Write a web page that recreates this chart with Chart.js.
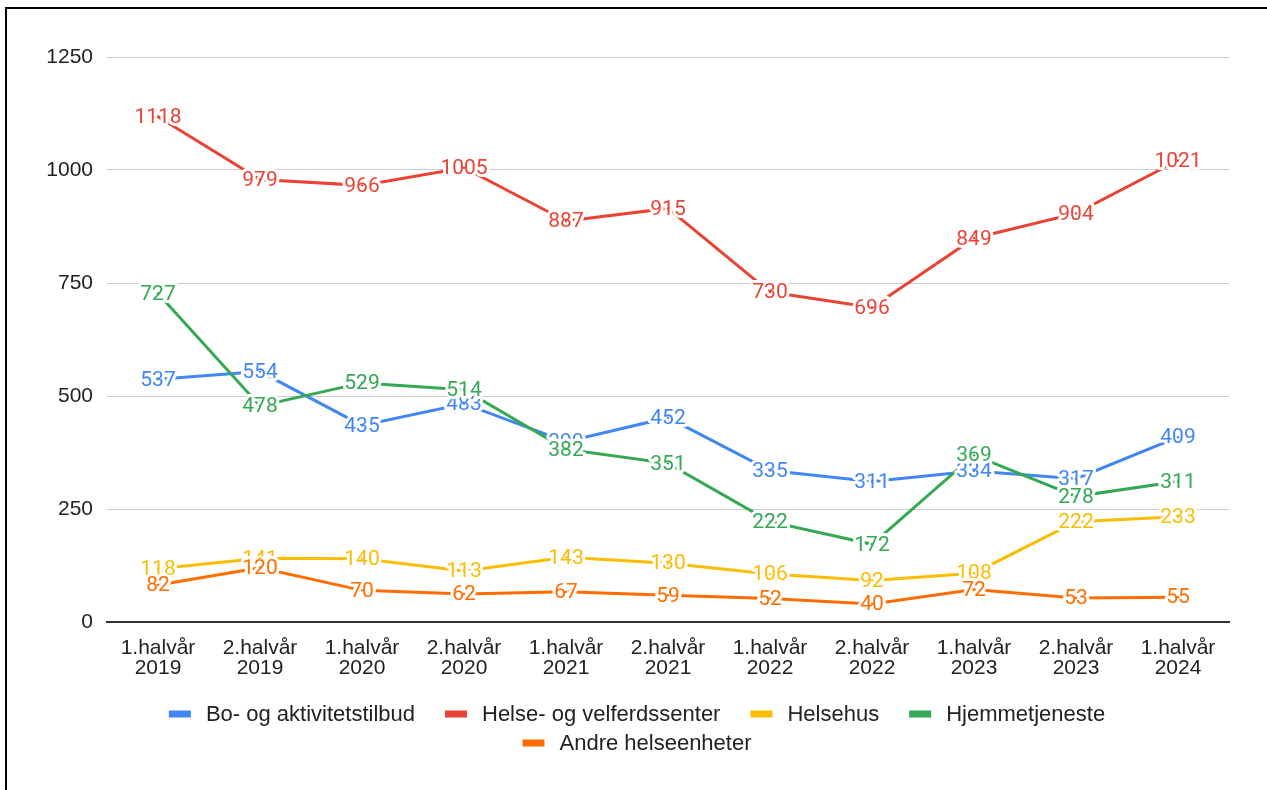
<!DOCTYPE html>
<html>
<head>
<meta charset="utf-8">
<script src="https://cdn.jsdelivr.net/npm/chart.js@4.4.1/dist/chart.umd.min.js"></script>
<style>
    html, body { margin: 0; padding: 0; background: #fff; }
    #wrap { position: relative; width: 1267px; height: 790px; overflow: hidden; }
    #ramme { position: absolute; left: 5px; top: 7px; width: 1400px; height: 900px; border-left: 2px solid #000; border-top: 2px solid #000; }
    #myChart { position: absolute; left: 0; top: 0; }
</style>
</head>
<body>
<div id="wrap">
    <canvas id="myChart" width="1267" height="790"></canvas>
    <div id="ramme"></div>
</div>
<script>
    let halvaar = [
        ['1.halvår', '2019'], ['2.halvår', '2019'], ['1.halvår', '2020'], ['2.halvår', '2020'],
        ['1.halvår', '2021'], ['2.halvår', '2021'], ['1.halvår', '2022'], ['2.halvår', '2022'],
        ['1.halvår', '2023'], ['2.halvår', '2023'], ['1.halvår', '2024'],
    ];
    let boOgAktivitet = [537, 554, 435, 483, 399, 452, 335, 311, 334, 317, 409];
    let helseOgVelferd = [1118, 979, 966, 1005, 887, 915, 730, 696, 849, 904, 1021];
    let helsehus = [118, 141, 140, 113, 143, 130, 106, 92, 108, 222, 233];
    let hjemmetjeneste = [727, 478, 529, 514, 382, 351, 222, 172, 369, 278, 311];
    let andreEnheter = [82, 120, 70, 62, 67, 59, 52, 40, 72, 53, 55];
    let yTicks = [0, 250, 500, 750, 1000, 1250];

    let serieNavn = ['Bo- og aktivitetstilbud', 'Helse- og velferdssenter', 'Helsehus', 'Hjemmetjeneste', 'Andre helseenheter'];
    let serieData = [boOgAktivitet, helseOgVelferd, helsehus, hjemmetjeneste, andreEnheter];
    let farger = ['#4285F4', '#EA4335', '#FBBC04', '#34A853', '#FF6D01'];

    let tekstFont = '"Liberation Sans", Arial, sans-serif';

    // tall ved hvert punkt, med hvit kant rundt
    const verdiEtiketter = {
        id: 'verdiEtiketter',
        afterDatasetsDraw(chart) {
            let ctx = chart.ctx;
            ctx.save();
            ctx.font = '21px Roboto';
            ctx.textAlign = 'center';
            ctx.textBaseline = 'middle';
            ctx.lineJoin = 'round';
            chart.data.datasets.forEach(function (ds, i) {
                chart.getDatasetMeta(i).data.forEach(function (pt, j) {
                    let tekst = String(ds.data[j]);
                    ctx.lineWidth = 6;
                    ctx.strokeStyle = '#fff';
                    ctx.strokeText(tekst, pt.x, pt.y + 1);
                    ctx.fillStyle = ds.borderColor;
                    ctx.fillText(tekst, pt.x, pt.y + 1);
                });
            });
            // små prikker oppå tallene
            chart.data.datasets.forEach(function (ds, i) {
                chart.getDatasetMeta(i).data.forEach(function (pt) {
                    pt.draw(ctx, chart.chartArea);
                });
            });
            ctx.restore();
        },
    };

    // forklaring nederst, to rader
    const bunnLegend = {
        id: 'bunnLegend',
        afterDraw(chart) {
            let ctx = chart.ctx;
            let rader = [[0, 1, 2, 3], [4]];
            let radY = [chart.chartArea.bottom + 92, chart.chartArea.bottom + 121];
            let midt = 637;
            ctx.save();
            ctx.font = '22px ' + tekstFont;
            ctx.textBaseline = 'middle';
            rader.forEach(function (rad, r) {
                let bredder = rad.map(function (i) {
                    return 22 + 15 + ctx.measureText(serieNavn[i]).width;
                });
                let total = bredder.reduce(function (a, b) { return a + b; }, 0) + 30 * (rad.length - 1);
                let x = midt - total / 2;
                rad.forEach(function (i, k) {
                    ctx.fillStyle = farger[i];
                    ctx.fillRect(x, radY[r] - 3.5, 22, 7);
                    ctx.fillStyle = '#222';
                    ctx.fillText(serieNavn[i], x + 37, radY[r] + 1);
                    x += bredder[k] + 30;
                });
            });
            ctx.restore();
        },
    };

    let datasets = serieData.map(function (verdier, i) {
        return {
            label: serieNavn[i],
            data: verdier,
            borderColor: farger[i],
            backgroundColor: farger[i],
            borderWidth: 3,
            pointRadius: 1.2,
            pointBorderWidth: 0,
            pointHoverRadius: 1.2,
            tension: 0,
            order: serieNavn.length - i,
        };
    });

    let ctx = document.getElementById('myChart').getContext('2d');
    window.myChart = new Chart(ctx, {
        type: 'line',
        data: {
            labels: halvaar,
            datasets: datasets,
        },
        options: {
            responsive: false,
            animation: false,
            events: [],
            layout: {
                padding: { top: 57, right: 38, bottom: 104, left: 0 },
            },
            plugins: {
                legend: { display: false },
                tooltip: { enabled: false },
            },
            scales: {
                x: {
                    offset: true,
                    grid: { display: false },
                    border: { display: true, color: '#333', width: 2 },
                    ticks: {
                        color: '#222',
                        font: { family: tekstFont, size: 21, lineHeight: '20px' },
                        padding: 8,
                        maxRotation: 0,
                        autoSkip: false,
                    },
                },
                y: {
                    min: 0,
                    max: 1250,
                    afterFit: function (scale) {
                        scale.width = 107;
                    },
                    afterBuildTicks: function (scale) {
                        scale.ticks = yTicks.map(function (v) { return { value: v }; });
                    },
                    grid: { color: '#ccc', lineWidth: 1, drawTicks: false },
                    border: { display: false },
                    ticks: {
                        color: '#222',
                        font: { family: tekstFont, size: 21 },
                        padding: 14,
                        callback: function (v) { return String(v); },
                    },
                },
            },
        },
        plugins: [verdiEtiketter, bunnLegend],
    });
</script>
</body>
</html>
